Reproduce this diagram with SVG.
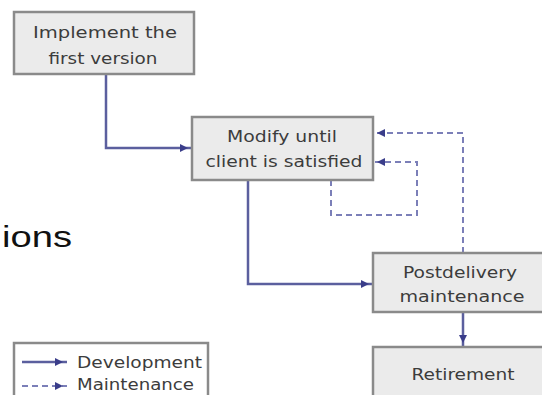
<svg xmlns="http://www.w3.org/2000/svg" width="542" height="395" viewBox="0 0 542 395">
<defs>
<style>
.box{fill:#ebebeb;stroke:#8a8a8a;stroke-width:2.5}
.leg{fill:#ffffff;stroke:#8a8a8a;stroke-width:2.5}
.t{font-family:"DejaVu Sans","Liberation Sans",sans-serif;font-size:16px;fill:#3c3c3c;text-anchor:middle}
.lt{font-family:"DejaVu Sans","Liberation Sans",sans-serif;font-size:16px;fill:#3c3c3c}
.dev{fill:none;stroke:#5b5f9e;stroke-width:2.5;marker-end:url(#ah)}
.mnt{fill:none;stroke:#7b7fb8;stroke-width:2;stroke-dasharray:6 4;marker-end:url(#ah)}
</style>
<marker id="ah" markerWidth="14" markerHeight="10" refX="12" refY="4" orient="auto" markerUnits="userSpaceOnUse">
<path d="M0,0 L8,4 L0,8 z" fill="#3a3d8a"/>
</marker>
</defs>
<rect width="542" height="395" fill="#ffffff"/>
<text x="2" y="247" font-family="Liberation Sans, Arial, sans-serif" font-size="30" fill="#111" textLength="70" lengthAdjust="spacingAndGlyphs">ions</text>
<g id="connectors">
<path class="dev" d="M106,74 V148 H192"/>
<path class="dev" d="M248,180 V284 H373"/>
<path class="mnt" d="M463,253 V133 H373"/>
<path class="mnt" d="M331,180 V215 H417 V162 H373"/>
<path class="dev" d="M463,312 V347"/>
</g>
<g id="implement">
<rect class="box" x="14" y="12" width="180" height="62"/>
<text class="t" x="105" y="38" textLength="144" lengthAdjust="spacingAndGlyphs">Implement the</text>
<text class="t" x="103" y="64" textLength="109" lengthAdjust="spacingAndGlyphs">first version</text>
</g>
<g id="modify">
<rect class="box" x="192" y="117" width="181" height="63"/>
<text class="t" x="282" y="142" textLength="110" lengthAdjust="spacingAndGlyphs">Modify until</text>
<text class="t" x="284" y="167" textLength="157" lengthAdjust="spacingAndGlyphs">client is satisfied</text>
</g>
<g id="postdelivery">
<rect class="box" x="373" y="253" width="180" height="59"/>
<text class="t" x="460" y="278" textLength="114" lengthAdjust="spacingAndGlyphs">Postdelivery</text>
<text class="t" x="462" y="302" textLength="125" lengthAdjust="spacingAndGlyphs">maintenance</text>
</g>
<g id="retirement">
<rect class="box" x="373" y="347" width="180" height="60"/>
<text class="t" x="463" y="380" textLength="103" lengthAdjust="spacingAndGlyphs">Retirement</text>
</g>
<g id="legend">
<rect class="leg" x="14" y="343" width="194" height="60"/>
<path class="dev" d="M22,362 H67"/>
<path class="mnt" d="M22,386 H67"/>
<text class="lt" x="77" y="368" textLength="125" lengthAdjust="spacingAndGlyphs">Development</text>
<text class="lt" x="77" y="390" font-size="15" textLength="117" lengthAdjust="spacingAndGlyphs">Maintenance</text>
</g>
</svg>
